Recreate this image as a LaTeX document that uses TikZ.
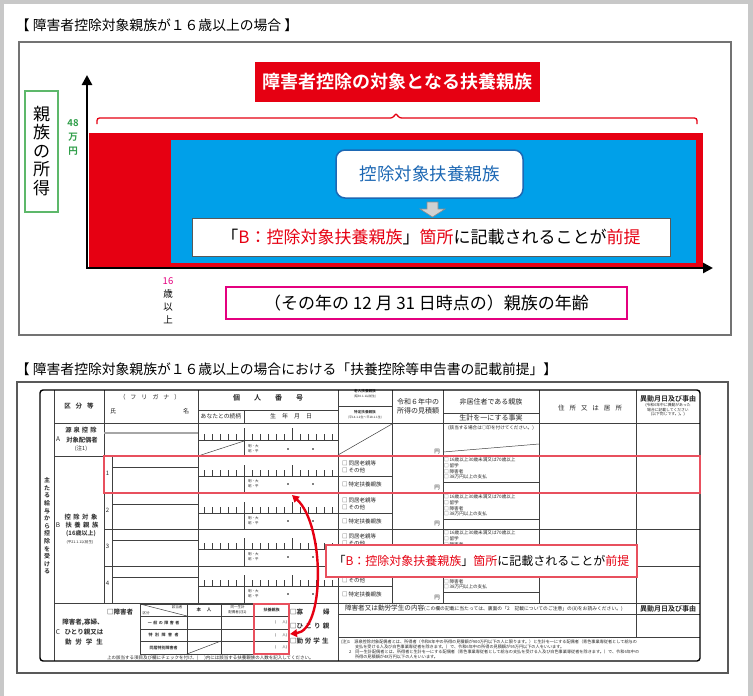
\documentclass[tikz,border=0pt]{standalone}
\usepackage{fontspec}
\setmainfont{Noto Sans CJK JP}[BoldFont={Noto Sans CJK JP Bold}]
\usetikzlibrary{arrows.meta}
\definecolor{jred}{HTML}{E60012}
\definecolor{jblue}{HTML}{00A0E9}
\definecolor{dblue}{HTML}{1D68B4}
\definecolor{jgreen}{HTML}{5DB86A}
\definecolor{tgreen}{HTML}{2E9E48}
\definecolor{jmag}{HTML}{E4007F}
\definecolor{pinkred}{HTML}{E8505E}
\definecolor{bggray}{HTML}{C8C8C8}
\tikzset{
  tri/.tip={Triangle[length=10pt,width=10pt]},
  rtri/.tip={Triangle[length=7pt,width=7.5pt]}
}
\begin{document}
\begin{tikzpicture}[x=1pt,y=-1pt,
  tx/.style={inner sep=0pt,outer sep=0pt},
  fs/.style={font=\fontsize{#1}{#1}\selectfont},
  fsb/.style={font=\fontsize{#1}{#1}\selectfont\bfseries},
  grid/.style={line width=0.5pt, black!75}
]
\useasboundingbox (0,0) rectangle (753,696);
\fill[bggray] (0,0) rectangle (753,696);
\fill[white] (4,4) rectangle (748,696);

% ================= top section =================
\node[tx, fs=13.8, anchor=west] (title1) at (16,25) {【 障害者控除対象親族が１６歳以上の場合 】};
\draw[line width=1.2pt, black!55] (19,42) rectangle (731,335);

\fill[jred] (89,133) rectangle (703,268);
\fill[jblue] (171,140) rectangle (696,263);

\coordinate (origin) at (87,268);
\coordinate (ytip) at (87,75);
\coordinate (xtip) at (713,268);
\draw[line width=2.8pt, tri-tri] (ytip) -- (origin) -- (xtip);

\node[tx, fill=jred, minimum width=285pt, minimum height=40pt, text=white, fsb=18] (redtitle) at (397.5,82) {障害者控除の対象となる扶養親族};
\draw[jred, line width=1.3pt, rounded corners=2.5pt] (97,124) -- (97,118) -- (393,118) -- (396,113) -- (399,118) -- (697,118) -- (697,124);

\node[tx, draw=dblue, line width=1.5pt, fill=white, rounded corners=9pt, minimum width=187pt, minimum height=48pt, text=dblue, fs=17.5] (kojo) at (429.5,174) {控除対象扶養親族};
\draw[fill=black!18, draw=black!45, line width=0.6pt] (427,202) -- (438,202) -- (438,209) -- (445,209) -- (432.5,217) -- (420,209) -- (427,209) -- cycle;
\node[tx, draw=black!65, line width=1pt, fill=white, minimum width=478pt, minimum height=38pt, fs=17] (premise) at (431,237) {「\textcolor{jred}{B：控除対象扶養親族}」\textcolor{jred}{箇所}に記載されることが\textcolor{jred}{前提}};

\node[tx, draw=jmag, line width=2pt, minimum width=401pt, minimum height=32pt, fs=17] (agebox) at (426.5,303) {（その年の 12 月 31 日時点の）親族の年齢};
\node[tx, draw=jgreen, line width=1.2pt, minimum width=33pt, minimum height=121pt] (incbox) at (41.5,151.5) {};
\node[tx, align=center, font=\fontsize{17}{18.5}\selectfont] (inctext) at (41.5,151) {親\\族\\の\\所\\得};
\node[tx, align=center, text=tgreen, font=\fontsize{9.5}{14}\selectfont\bfseries] (fortyeight) at (73,137) {48\\万\\円};
\node[tx, align=center, font=\fontsize{9.5}{13}\selectfont] (sixteen) at (168,300.5) {\textcolor{jmag}{16}\\歳\\以\\上};

% ================= bottom section =================
\node[tx, fs=13.8, anchor=west] (title2) at (16,369) {【 障害者控除対象親族が１６歳以上の場合における「扶養控除等申告書の記載前提」】};
\draw[line width=1.5pt, black!65] (17,382) rectangle (728,673);

\begin{scope}[text=black!85]
% verticals
\draw[grid] (54,390) -- (54,661);
\draw[grid] (104,390) -- (104,603);
\draw[grid] (112,456) -- (112,603);
\foreach \x in {198,392,443,539} \draw[grid] (\x,390) -- (\x,603);
\draw[grid] (338,390) -- (338,661);
\draw[grid] (636,390) -- (636,637);
\draw[grid] (244,410) -- (244,423);
\draw[grid] (244,440) -- (244,456);
% horizontals
\draw[grid] (54,423) -- (700,423);
\draw[grid] (54,456) -- (700,456);
\draw[grid] (54,603) -- (700,603);
\draw[grid] (198,410) -- (338,410);
\draw[grid] (338,406) -- (392,406);
\draw[grid] (443,413) -- (539,413);
\draw[grid] (198,440) -- (338,440);
\draw[black!35, line width=1.2pt] (104,433) -- (198,433);
\draw[grid] (198,456) -- (244,441);
\draw[grid] (338,455) -- (392,424);
\draw[grid] (443,452) -- (539,444);
\foreach \k in {1,...,17} \draw[grid] (196+8*\k,434) -- (196+8*\k,440);
\draw[grid] (244,428) -- (244,440);
\draw[grid] (292,428) -- (292,440);

% header texts
\node[tx, fsb=6.5] (hKubun) at (79,406) {区\hspace{5pt}分\hspace{5pt}等};
\node[tx, fs=6] (hFuri) at (150,397) {（\hspace{5pt}フ\hspace{5pt}リ\hspace{5pt}ガ\hspace{5pt}ナ\hspace{5pt}）};
\node[tx, fs=6] (hShi) at (113,411) {氏};
\node[tx, fs=6] (hMei) at (186,411) {名};
\node[tx, fsb=7] (hKojin) at (268,398) {個\hspace{14pt}人\hspace{14pt}番\hspace{14pt}号};
\node[tx, fs=5.8] (hZoku) at (221,416.5) {あなたとの続柄};
\node[tx, fs=6] (hSei) at (291,416.5) {生\hspace{6pt}年\hspace{6pt}月\hspace{6pt}日};
\node[tx, fsb=3.6] (hRo1) at (365,391.5) {老人扶養親族};
\node[tx, fs=3] (hRo2) at (365,396.5) {(昭30.1.1以前生)};
\node[tx, fsb=3.6] (hTo1) at (365,412) {特定扶養親族};
\node[tx, fs=3] (hTo2) at (365,417.5) {(平14.1.2生～平18.1.1生)};
\node[tx, fs=7] (hRei1) at (418,402) {令和６年中の};
\node[tx, fs=7] (hRei2) at (418,411) {所得の見積額};
\node[tx, fs=7] (hHi1) at (491,402) {非居住者である親族};
\node[tx, fs=7] (hHi2) at (491,418) {生計を一にする事実};
\node[tx, fs=4.6] (hHi3) at (491,428) {(該当する場合は○印を付けてください。)};
\node[tx, fs=6.5] (hJu) at (590,408) {住\hspace{5pt}所\hspace{5pt}又\hspace{5pt}は\hspace{5pt}居\hspace{5pt}所};
\node[tx, fsb=7] (hIdo) at (668,399) {異動月日及び事由};
\node[tx, align=center, font=\fontsize{3.8}{4.6}\selectfont] (hIdo2) at (668,410) {(令和6年中に異動があった\\場合に記載してください\\(以下同じです。)。)};

% A row
\node[tx, fsb=6.3] (aL1) at (81,430) {源\hspace{2pt}泉\hspace{2pt}控\hspace{2pt}除};
\node[tx, fs=6.5] (aA) at (58,439) {A};
\node[tx, fsb=6.3] (aL2) at (82,440) {対象配偶者};
\node[tx, fs=5.5] (aL3) at (81,449) {(注1)};
\node[tx, anchor=west, align=left, font=\fontsize{3.5}{5}\selectfont] (aGen) at (248,448.5) {明・大\\昭・平};
\fill (288,449) circle (0.8);
\fill (313,449) circle (0.8);
\node[tx, fs=5.5] (aYen) at (437,452) {円};

% B rows
\foreach \t/\b/\n in {456/493/1,493/529/2,529/566/3,566/603/4} {
  \draw[grid] (104,\b) -- (700,\b);
  \draw[grid] (112,\t+11) -- (198,\t+11);
  \draw[grid] (198,\t+20) -- (392,\t+20);
  \draw[grid] (244,\t+20) -- (244,\b);
  \draw[grid] (443,\t+26) -- (539,\t+26);
  \foreach \k in {1,...,17} \draw[grid] (196+8*\k,\t+14) -- (196+8*\k,\t+20);
  \draw[grid] (244,\t+9) -- (244,\t+20);
  \draw[grid] (292,\t+9) -- (292,\t+20);
  \node[tx, fs=6] (num\n) at (107.5,\t+17) {\n};
  \node[tx, anchor=west, align=left, font=\fontsize{3.5}{5}\selectfont] (gen\n) at (248,\t+28) {明・大\\昭・平};
  \fill (288,\t+28) circle (0.8);
  \fill (313,\t+28) circle (0.8);
  \node[tx, anchor=west, align=left, font=\fontsize{5.5}{7}\selectfont] (old\n) at (342,\t+10.5) {□ 同居老親等\\□ その他};
  \ifnum\n=3\relax\else
    \node[tx, anchor=west, fs=5.5] (tok\n) at (342,\t+28) {□ 特定扶養親族};
    \node[tx, fs=5.5] (yen\n) at (437,\b-5) {円};
  \fi
  \node[tx, anchor=west, align=left, font=\fontsize{4.6}{5.6}\selectfont] (non\n) at (444,\t+12.5) {□\ 16歳以上30歳未満又は70歳以上\\□\ 留学\\□\ 障害者\\□\ 38万円以上の支払};
}

% B label
\node[tx, fsb=6.3] (bL1) at (81,517) {控\hspace{2.5pt}除\hspace{2.5pt}対\hspace{2.5pt}象};
\node[tx, fs=6.5] (bB) at (58,525) {B};
\node[tx, fsb=6.3] (bL2) at (82,525) {扶\hspace{2.5pt}養\hspace{2.5pt}親\hspace{2.5pt}族};
\node[tx, fsb=6] (bL3) at (81,534) {(16歳以上)};
\node[tx, fs=3.6] (bL4) at (80,542) {(平21.1.1以前生)};
\node[tx, align=center, font=\fontsize{6}{7.6}\selectfont\bfseries] (sideV) at (47,526) {主\\た\\る\\給\\与\\か\\ら\\控\\除\\を\\受\\け\\る};

% C row
\node[tx, fsb=6.5] (cL1) at (83,622) {障害者,寡婦、};
\node[tx, fs=6.5] (cC) at (58,632) {C};
\node[tx, fsb=6.5] (cL2) at (84,632) {ひとり親又は};
\node[tx, fsb=6.5] (cL3) at (84,642) {勤\hspace{4pt}労\hspace{4pt}学\hspace{4pt}生};
\node[tx, fsb=6.5, anchor=west] (cSho) at (107,612) {□障害者};

\draw[grid] (140,604) rectangle (289,654);
\foreach \x in {187,221,254} \draw[grid] (\x,604) -- (\x,654);
\foreach \y in {616,629,641} \draw[grid] (140,\y) -- (289,\y);
\draw[grid] (140,604) -- (187,616);
\draw[grid] (187,654) -- (221,641);
\node[tx, fs=3.5] (tGai) at (177,607.5) {該当者};
\node[tx, fs=3.5] (tKu) at (146,613) {区分};
\node[tx, fsb=4.5] (tHon) at (204,610) {本\hspace{6pt}人};
\node[tx, align=center, font=\fontsize{3.5}{4.5}\selectfont] (tDou) at (237.5,610) {同一生計\\配偶者(注2)};
\node[tx, fsb=4] (tFuyo) at (271.5,610) {扶養親族};
\node[tx, fsb=4] (tR1) at (163.5,622.5) {一\hspace{1.5pt}般\hspace{1.5pt}の\hspace{1.5pt}障\hspace{1.5pt}害\hspace{1.5pt}者};
\node[tx, fsb=4] (tR2) at (163.5,635) {特\hspace{2.5pt}別\hspace{2.5pt}障\hspace{2.5pt}害\hspace{2.5pt}者};
\node[tx, fsb=4] (tR3) at (163.5,647.5) {同居特別障害者};
\foreach \y/\n in {622.5/1,635/2,647.5/3} \node[tx, fs=3.5, anchor=east] (tNin\n) at (287,\y) {(\hspace{6pt}人)};

\node[tx, fsb=6.5, anchor=west] (cKa) at (290,612) {□寡\hspace{20pt}婦};
\node[tx, fsb=6.5, anchor=west] (cHi) at (290,626) {□ひ\hspace{2.3pt}と\hspace{2.3pt}り\hspace{2.3pt}親};
\node[tx, fsb=6.5, anchor=west] (cKin) at (290,641) {□勤\hspace{2pt}労\hspace{2pt}学\hspace{2pt}生};
\node[tx, fs=4.5, anchor=west] (cNote) at (107,658.5) {上の該当する項目及び欄にチェックを付け、(\hspace{6pt})内には該当する扶養親族の人数を記入してください。};

\draw[grid] (338,614) -- (700,614);
\draw[grid] (338,637) -- (700,637);
\node[tx, anchor=west] (cNaiyo) at (345,608.5) {\fontsize{6.6}{6.6}\selectfont 障害者又は勤労学生の内容\fontsize{4.8}{4.8}\selectfont (この欄の記載に当たっては、裏面の「2　記載についてのご注意」の(8)をお読みください。)};
\node[tx, fsb=7] (cIdo) at (668,608.5) {異動月日及び事由};
\node[tx, fs=4.15, anchor=west] (n1) at (341,642.5) {(注)1　源泉控除対象配偶者とは、所得者（令和6年中の所得の見積額が900万円以下の人に限ります。）と生計を一にする配偶者（青色事業専従者として給与の};
\node[tx, fs=4.15, anchor=west] (n2) at (355,647.3) {支払を受ける人及び白色事業専従者を除きます。）で、令和6年中の所得の見積額が95万円以下の人をいいます。};
\node[tx, fs=4.15, anchor=west] (n3) at (349,652) {2　同一生計配偶者とは、所得者と生計を一にする配偶者（青色事業専従者として給与の支払を受ける人及び白色事業専従者を除きます。）で、令和6年中の};
\node[tx, fs=4.15, anchor=west] (n4) at (355,656.5) {所得の見積額が48万円以下の人をいいます。};

\draw[line width=1.4pt, rounded corners=3pt] (40,390) rectangle (700,661);
\end{scope}

% highlights, callout, arrow
\node[tx, draw=pinkred, line width=1.3pt, minimum width=596pt, minimum height=37pt] (row1box) at (402,474.5) {};
\node[tx, draw=pinkred, line width=1.3pt, minimum width=35pt, minimum height=50pt] (fuyoubox) at (271.5,629) {};
\node[tx, draw=pinkred, line width=1.5pt, fill=white, minimum width=311pt, minimum height=32pt, fs=12] (callout) at (481.5,561) {「\textcolor{jred}{B：控除対象扶養親族}」\textcolor{jred}{箇所}に記載されることが\textcolor{jred}{前提}};
\coordinate (arrA) at (292,495);
\coordinate (arrB) at (290,634);
\draw[jred, line width=2.4pt, rtri-rtri] (arrA) .. controls (325,525) and (325,630) .. (arrB);
\end{tikzpicture}
\end{document}
